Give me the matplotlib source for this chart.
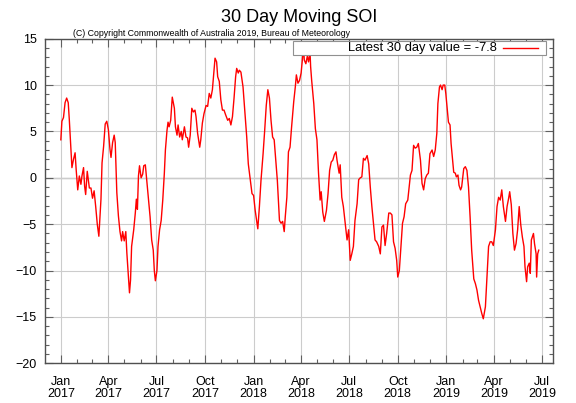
import numpy as np
import matplotlib
matplotlib.use("Agg")
import matplotlib.pyplot as plt
import matplotlib.dates as mdates
from matplotlib.lines import Line2D
from matplotlib.patches import Rectangle

plt.rcParams['font.family'] = ['Liberation Sans', 'DejaVu Sans']

# days since 2017-01-01 and the 30 day moving SOI
days = [0, 2, 5, 8, 11, 14, 16, 19, 21, 24, 27, 29, 32, 35, 38, 40, 43, 45, 47, 50,
        54, 57, 60, 63, 66, 69, 72, 76, 78, 81, 84, 87, 90, 93, 95, 98, 101, 103, 106, 109,
        112, 115, 117, 120, 123, 125, 128, 130, 132, 134, 138, 141, 143, 145, 147, 149, 152, 155, 157, 160,
        163, 166,
        169, 172, 175, 177, 179, 182, 184, 187, 190, 193, 196, 198, 201, 203, 205, 208, 211, 215, 217, 220,
        222, 225, 228, 230, 234, 237, 240, 242, 245, 248, 251, 254, 256, 259, 263, 265, 268, 271, 275, 278,
        281, 284, 287, 289, 292, 295, 297, 300, 303, 306, 309, 312, 316, 319, 322, 325, 328, 331, 333, 336,
        338, 341, 345,
        349, 352, 355, 359, 362, 365, 368, 371, 373, 376, 379, 383, 386, 389, 392, 395, 398, 401, 404, 407,
        410, 414, 417, 420, 423, 425, 428, 431, 434, 437, 441, 444, 446, 449, 452, 455, 458, 460, 461, 464,
        467, 469, 472, 473, 475, 479, 482, 485, 488, 491, 493, 496, 499, 503, 506, 509, 512, 515, 518, 521,
        523, 527,
        529, 532, 535, 538, 542, 545, 548, 551, 554, 557, 561, 564, 567, 570, 573, 576, 580, 583, 586, 589,
        592, 595, 598, 602, 605, 608, 611, 614, 617, 621, 624, 627, 630, 633, 636, 638, 641, 644, 647, 650,
        653, 657, 660, 662, 665, 668, 671, 674, 677, 681, 684, 687, 690, 693, 696, 699, 703, 706,
        709, 712, 714, 717, 719, 722, 724, 727, 729, 732, 734, 737, 739, 742, 744, 747, 749, 752, 754, 757,
        759, 763, 766, 769, 772, 775, 778, 782, 785, 788, 791, 794, 797, 800, 804, 807, 810, 813, 816, 819,
        823, 826, 829, 832, 835, 838, 842, 845, 848, 850, 853, 856, 859, 862, 865, 868, 871, 874, 877, 879,
        882, 884, 887, 889, 891, 895, 897, 900, 901, 903, 905]
soi = [4.1, 6.1, 6.5, 8.1, 8.6, 8.1, 6.3, 3.1, 1.1, 2.0, 2.7, 0.9, -1.3, 0.2, -0.7, 0.2, 1.1, -0.9, -1.8, 0.7,
       -1.1, -1.1, -2.2, -1.4, -3.1, -5.0, -6.3, -2.3, 1.6, 3.4, 5.8, 6.1, 5.2, 3.1, 2.2, 3.8, 4.6, 3.8, -1.6, -4.1,
       -5.8, -6.8, -5.8, -6.8, -5.8, -8.1, -10.6, -12.4, -11.0, -7.4, -5.6, -3.8, -2.3, -3.4, 0.2, 1.3, 0.0, 0.4, 1.3, 1.4,
       -0.5, -2.3,
       -4.2, -6.7, -7.8, -10.0, -11.1, -10.0, -7.4, -5.6, -4.6, -2.4, 0.5, 3.0, 5.1, 6.0, 5.5, 6.2, 8.7, 7.5, 5.5, 4.6,
       5.7, 4.4, 5.0, 4.1, 5.5, 4.4, 4.3, 3.3, 4.6, 7.5, 7.1, 7.3, 6.6, 4.8, 3.3, 4.1, 5.9, 6.9, 7.8, 7.7,
       9.1, 8.6, 9.5, 10.9, 12.9, 12.5, 10.9, 10.4, 8.4, 7.3, 7.3, 6.8, 6.2, 6.4, 5.7, 6.6, 8.6, 10.9, 11.8, 11.3,
       11.6, 11.4, 9.8,
       6.8, 4.4, 1.5, -0.3, -1.7, -1.9, -3.5, -4.7, -5.5, -3.1, -0.3, 2.6, 5.1, 7.8, 9.5, 8.6, 6.2, 4.4, 4.1, 1.9,
       -0.3, -4.6, -4.9, -4.7, -5.8, -4.2, -2.1, 2.8, 3.3, 5.5, 8.2, 9.8, 11.1, 10.2, 10.5, 11.3, 13.1, 13.8, 12.7, 12.3,
       13.2, 12.5, 13.4, 12.0, 10.5, 8.0, 5.3, 4.1, 0.5, -2.4, -1.5, -3.7, -4.7, -3.5, -1.7, 0.8, 1.7, 1.9, 2.5, 2.8,
       1.9, 0.5,
       1.4, -2.1, -3.1, -4.6, -6.7, -5.6, -8.9, -8.2, -7.4, -4.6, -2.8, -0.2, 0.0, 0.1, 2.1, 1.9, 2.4, 1.5, -1.0, -3.1,
       -4.9, -6.7, -6.9, -7.4, -8.2, -5.3, -5.1, -7.3, -6.0, -3.8, -3.8, -4.0, -6.9, -7.6, -8.9, -10.7, -10.0, -7.4, -4.9, -4.2,
       -2.8, -2.4, -0.8, 0.3, 0.8, 3.5, 3.2, 3.3, 3.7, 1.9, -0.6, -1.3, -0.1, 0.3, 0.5, 2.6, 3.0, 2.3,
       3.0, 4.8, 8.0, 9.8, 10.0, 9.5, 10.0, 10.0, 9.1, 7.3, 6.0, 5.7, 3.7, 1.9, 0.6, 0.5, 0.1, 0.3, -0.8, -1.3,
       -1.0, 1.0, 1.2, 0.8, -1.0, -4.2, -7.8, -10.9, -11.4, -12.1, -13.2, -13.9, -14.6, -15.2, -13.9, -10.7, -7.4, -6.9, -6.9, -7.3,
       -5.6, -3.1, -2.1, -2.4, -1.3, -3.1, -4.7, -3.1, -2.2, -1.5, -2.9, -6.0, -7.8, -7.1, -5.6, -3.1, -5.1, -6.4, -7.4, -9.6,
       -11.2, -9.6, -9.2, -10.3, -6.7, -6.0, -7.1, -8.2, -10.7, -8.2, -7.8]

start = np.datetime64('2017-01-01')
dates = start + np.array(days).astype('timedelta64[D]')
latest = soi[-1]

fig = plt.figure(figsize=(5.76, 4.03), dpi=100)
ax = fig.add_axes([45 / 576, 1 - 363.3 / 403, 508 / 576, 324.6 / 403])

ax.plot(dates, soi, color='#ff0000', linewidth=1.0, zorder=3)

ax.set_xlim(np.datetime64('2016-12-02'), np.datetime64('2019-07-22'))
ax.set_ylim(-20, 15)

ax.xaxis.set_major_locator(mdates.MonthLocator(bymonth=[1, 4, 7, 10]))
ax.xaxis.set_minor_locator(mdates.MonthLocator())
ax.xaxis.set_major_formatter(mdates.DateFormatter('%b\n%Y'))
ax.set_yticks(np.arange(-20, 16, 5))
ax.set_yticks(np.arange(-20, 16, 1), minor=True)

ax.grid(True, which='major', color='#cccccc', linewidth=0.8, zorder=0)
ax.axhline(0, color='#888888', linewidth=0.9, zorder=1)

ax.tick_params(which='both', direction='in', top=True, right=True, colors='#606060',
               labelcolor='black', labelsize=9)
ax.tick_params(which='major', length=6, width=0.8)
ax.tick_params(which='minor', length=3, width=0.8)
ax.tick_params(axis='x', which='major', pad=9)
ax.tick_params(axis='y', which='major', pad=6)
for lab in ax.get_xticklabels():
    lab.set_linespacing(1.05)
for s in ax.spines.values():
    s.set_color('#505050')
    s.set_linewidth(1.0)

fig.text(299 / 576, 1 - 18 / 403, '30 Day Moving SOI', ha='center', va='center', fontsize=13)
fig.text(73 / 576, 1 - 33 / 403,
         '(C) Copyright Commonwealth of Australia 2019, Bureau of Meteorology',
         ha='left', va='center', fontsize=6.3)

# key box, gnuplot style
fig.patches.append(Rectangle((293 / 576, 1 - 54.5 / 403), 253 / 576, 13.5 / 403,
                             transform=fig.transFigure, facecolor='white',
                             edgecolor='#909090', linewidth=0.8, zorder=5))
fig.text(497 / 576, 1 - 48 / 403, 'Latest 30 day value = %.1f' % latest,
         ha='right', va='center', fontsize=9.3, zorder=6)
fig.lines.append(Line2D([503 / 576, 538 / 576], [1 - 48 / 403, 1 - 48 / 403],
                        transform=fig.transFigure, color='#ff0000', linewidth=1.0, zorder=6))

fig.savefig('out.png', dpi=100)
